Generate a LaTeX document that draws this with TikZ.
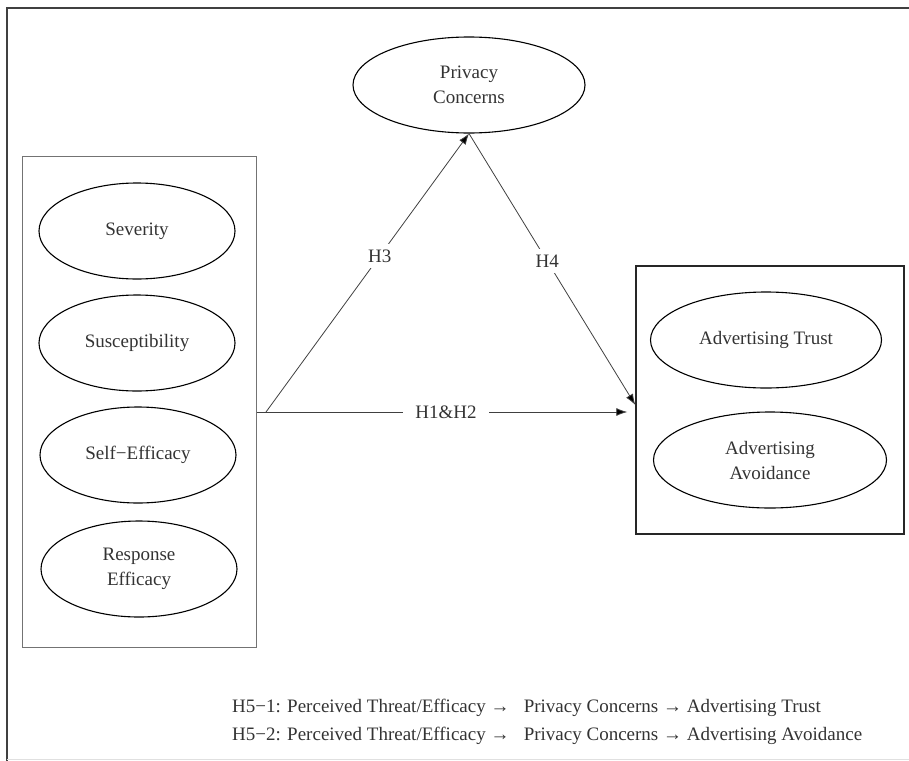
\documentclass[tikz,border=0pt]{standalone}
\usepackage{fontspec}
\setmainfont{Liberation Serif}
\usetikzlibrary{arrows.meta,shapes.geometric,calc}
\begin{document}
\begin{tikzpicture}[x=1pt,y=-1pt,
  font=\fontsize{19}{22}\selectfont,
  var/.style={ellipse,draw=black,line width=1.1pt,minimum width=#1,minimum height=96pt,inner sep=0pt,align=center,text=black!80},
  var/.default=196pt,
  conn/.style={draw=black!75,line width=0.8pt},
  tip/.style={-{Latex[length=11pt,width=8pt,fill=black]}},
  lab/.style={fill=white,inner sep=6pt,text=black!80}]
\useasboundingbox (0,0) rectangle (909,760);
% outer frame (right and bottom cropped)
\draw[black!75,line width=2.5pt] (7,762) -- (7,8) -- (912,8);
\draw[black!12,line width=1pt] (7,759.5) -- (909,759.5);
% left box
\node[draw=black!55,line width=1pt,minimum width=234pt,minimum height=491pt,inner sep=0pt] (lbox) at (139,401.5) {};
\node[var] (sev) at (137,231) {Severity};
\node[var] (sus) at (137,343) {Susceptibility};
\node[var] (self) at (138,455) {Self−Efficacy};
\node[var] (resp) at (139,569) {Response\\[3pt]Efficacy};
% privacy concerns
\node[var=232pt] (pc) at (469,85) {Privacy\\[3pt]Concerns};
% right box
\node[draw=black!85,line width=1.4pt,minimum width=268pt,minimum height=268pt,inner sep=0pt] (rbox) at (770,400) {};
\node[var=231pt] (trust) at (766,340) {Advertising Trust};
\node[var=233pt] (avoid) at (770,460) {Advertising\\[3pt]Avoidance};
% connectors
\coordinate (src) at (lbox.east |- 0,412);
\coordinate (h3s) at (266,412);
\coordinate (h4e) at (rbox.west |- 0,405);
\draw[conn,tip,shorten >=8pt] (src) -- node[lab,inner xsep=12pt] {H1\&H2} (src -| rbox.west);
\draw[conn,tip] (h3s) -- node[lab,pos=0.56] {H3} (pc.south);
\draw[conn,tip] (pc.south) -- node[lab,pos=0.47] {H4} (h4e);
% hypotheses text
\node[anchor=west,inner sep=0pt,text=black!80] (h51) at (232,708) {H5−1: Perceived Threat/Efficacy →\ \ \ Privacy Concerns → Advertising Trust};
\node[anchor=west,inner sep=0pt,text=black!80] (h52) at (232,736) {H5−2: Perceived Threat/Efficacy →\ \ \ Privacy Concerns → Advertising Avoidance};
\end{tikzpicture}
\end{document}
